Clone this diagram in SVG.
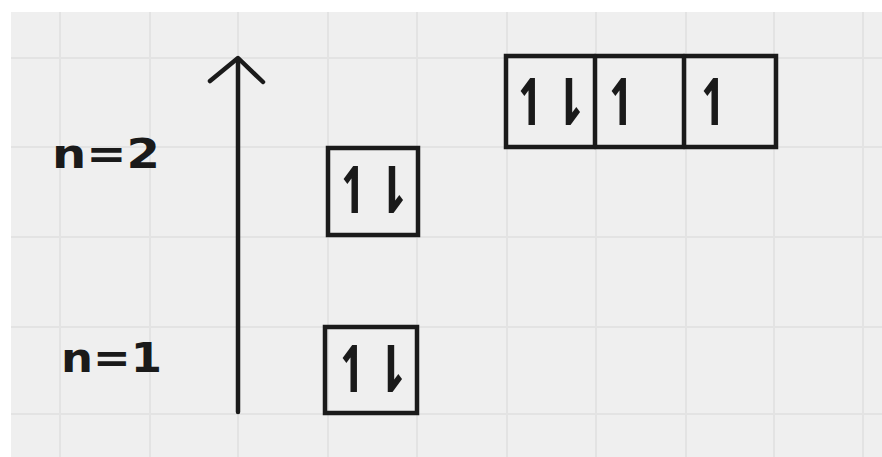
<svg xmlns="http://www.w3.org/2000/svg" width="882" height="457" viewBox="0 0 882 457">
<style>
.grid{stroke:#e3e3e3;stroke-width:2}
.box{fill:none;stroke:#1a1a1a;stroke-width:4.5;stroke-linejoin:miter}
.ln{fill:none;stroke:#1a1a1a;stroke-width:4.5;stroke-linecap:round;stroke-linejoin:round}
.spin{font-family:"DejaVu Sans Mono",monospace;font-size:62px;fill:#1a1a1a;stroke:#1a1a1a;stroke-width:1.5}
.lbl{font-family:"DejaVu Sans",sans-serif;font-weight:bold;font-size:40px;fill:#1a1a1a}
</style>
<rect width="882" height="457" fill="#ffffff"/>
<rect x="11" y="12" width="871" height="445" fill="#efefef"/>
<g id="grid">
<line class="grid" x1="60" y1="12" x2="60" y2="457"/>
<line class="grid" x1="150" y1="12" x2="150" y2="457"/>
<line class="grid" x1="238" y1="12" x2="238" y2="457"/>
<line class="grid" x1="328" y1="12" x2="328" y2="457"/>
<line class="grid" x1="417" y1="12" x2="417" y2="457"/>
<line class="grid" x1="507" y1="12" x2="507" y2="457"/>
<line class="grid" x1="596" y1="12" x2="596" y2="457"/>
<line class="grid" x1="686" y1="12" x2="686" y2="457"/>
<line class="grid" x1="774" y1="12" x2="774" y2="457"/>
<line class="grid" x1="863" y1="12" x2="863" y2="457"/>
<line class="grid" x1="11" y1="58" x2="882" y2="58"/>
<line class="grid" x1="11" y1="147" x2="882" y2="147"/>
<line class="grid" x1="11" y1="237" x2="882" y2="237"/>
<line class="grid" x1="11" y1="327" x2="882" y2="327"/>
<line class="grid" x1="11" y1="414" x2="882" y2="414"/>
</g>
<g id="connectors">
<line class="ln" x1="238" y1="60" x2="238" y2="412"/>
<polyline class="ln" points="210,81 238,58 263,82"/>
</g>
<g id="label-n2"><text class="lbl" x="52" y="168" textLength="108" lengthAdjust="spacingAndGlyphs">n=2</text></g>
<g id="label-n1"><text class="lbl" x="61" y="372" textLength="101" lengthAdjust="spacingAndGlyphs">n=1</text></g>
<g id="orbital-2s">
<rect class="box" x="328" y="148" width="90" height="87"/>
<text class="spin" transform="translate(336,211.5) scale(1,1.35)">↿⇂</text>
</g>
<g id="orbital-1s">
<rect class="box" x="325" y="327" width="92" height="86"/>
<text class="spin" transform="translate(335,390.5) scale(1,1.35)">↿⇂</text>
</g>
<g id="orbital-2p">
<rect class="box" x="506" y="56" width="270" height="91"/>
<line class="ln" x1="595" y1="56" x2="595" y2="147"/>
<line class="ln" x1="684" y1="56" x2="684" y2="147"/>
<text class="spin" transform="translate(513,123.5) scale(1,1.35)">↿⇂</text>
<text class="spin" transform="translate(604,123.5) scale(1,1.35)">↿</text>
<text class="spin" transform="translate(696,123.5) scale(1,1.35)">↿</text>
</g>
</svg>
